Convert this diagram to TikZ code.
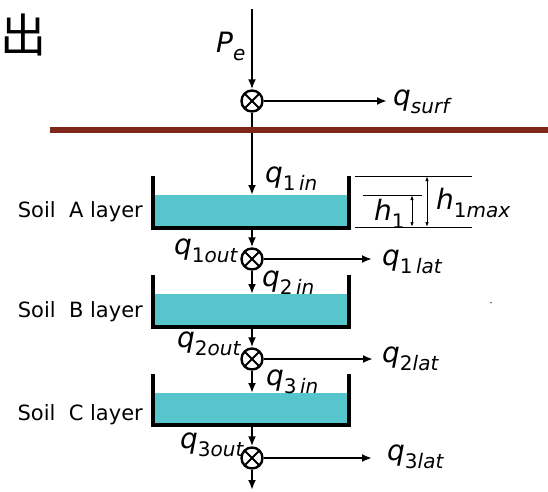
\documentclass[tikz,border=0pt]{standalone}
\usepackage{fontspec}
\setmainfont{DejaVu Sans}
\newfontfamily\cjk{Noto Sans CJK SC}
\usepackage{tikz}
\usetikzlibrary{arrows.meta}
\definecolor{water}{HTML}{56C5CC}
\definecolor{rust}{HTML}{7E2617}
\newcommand{\flux}[2]{\textit{#1}\raisebox{-8pt}{\fontsize{20}{20}\selectfont #2}}
\tikzset{
  junction/.style={circle,draw,line width=2.4pt,minimum size=21pt,inner sep=0pt,
    path picture={\draw[line width=2pt]
      (path picture bounding box.north west) -- (path picture bounding box.south east)
      (path picture bounding box.south west) -- (path picture bounding box.north east);}},
  arrow/.style={-{Latex[length=10pt,width=8pt]},line width=2pt},
  wall/.style={line width=4pt},
  gauge/.style={{Latex[length=5pt,width=3.5pt]}-{Latex[length=5pt,width=3.5pt]},line width=1pt},
  tag/.style={font=\fontsize{28}{28}\selectfont,inner sep=0pt,anchor=base west},
  layer/.style={font=\fontsize{21}{23}\selectfont,inner sep=0pt,anchor=base east}
}

\begin{document}
\begin{tikzpicture}[x=1pt,y=-1pt]
  \useasboundingbox (0,0) rectangle (548,491);
  \node[font=\cjk\fontsize{46}{46}\selectfont,inner sep=0pt] (glyph) at (24,35) {出};

  % surface
  \coordinate (rain) at (252,9);
  \node[junction] (j0) at (252,101) {};
  \draw[arrow] (rain) -- (j0);
  \node[tag] (pe) at (216,52) {\flux{P}{\textit{e}}};
  \coordinate (surf) at (387,101);
  \draw[arrow] (j0) -- (surf);
  \node[tag] (qsurf) at (393,105) {\flux{q}{\textit{surf}}};

  % soil layers
  \foreach \n/\top/\lev/\bot/\base in {A/176/195/228/217,B/275/294/327/317,C/374/393/425/420}{
    \fill[water] (153,\lev) rectangle (349,\bot);
    \draw[wall] (153,\top) -- (153,\bot) -- (349,\bot) -- (349,\top);
    \coordinate (in\n) at (252,\lev);
    \coordinate (out\n) at (252,\bot);
    \node[layer] (soil\n) at (143,\base) {Soil~~\n{} layer};
  }
  \draw[arrow] (j0) -- (inA);
  \draw[rust,line width=6pt] (50,130) -- (548,130);

  \node[junction] (j1) at (252,259) {};
  \node[junction] (j2) at (252,359) {};
  \node[junction] (j3) at (252,458) {};
  \coordinate (lat1) at (372,259);
  \coordinate (lat2) at (373,359);
  \coordinate (lat3) at (372,458);
  \coordinate (drain) at (252,490);

  \draw[arrow] (outA) -- (j1);
  \draw[arrow] (j1) -- (inB);
  \draw[arrow] (j1) -- (lat1);
  \draw[arrow] (outB) -- (j2);
  \draw[arrow] (j2) -- (inC);
  \draw[arrow] (j2) -- (lat2);
  \draw[arrow] (outC) -- (j3);
  \draw[arrow] (j3) -- (lat3);
  \draw[arrow] (j3) -- (drain);

  \node[tag] (q1in) at (265,182) {\flux{q}{1\,\textit{in}}};
  \node[tag] (q1out) at (174,254) {\flux{q}{1\textit{out}}};
  \node[tag] (q1lat) at (382,265) {\flux{q}{1\,\textit{lat}}};
  \node[tag] (q2in) at (262,286) {\flux{q}{2\,\textit{in}}};
  \node[tag] (q2out) at (177,347) {\flux{q}{2\textit{out}}};
  \node[tag] (q2lat) at (382,362) {\flux{q}{2\textit{lat}}};
  \node[tag] (q3in) at (266,385) {\flux{q}{3\,\textit{in}}};
  \node[tag] (q3out) at (180,448) {\flux{q}{3\textit{out}}};
  \node[tag] (q3lat) at (387,460) {\flux{q}{3\textit{lat}}};

  % level marks
  \draw[line width=1pt] (355,176) -- (472,176);
  \draw[line width=1pt] (363,195) -- (422,195);
  \draw[line width=1pt] (355,227) -- (472,227);
  \draw[gauge] (412,195) -- (412,227);
  \draw[gauge] (427,176) -- (427,227);
  \node[tag] (h1) at (374,220) {\flux{h}{1}};
  \node[tag] (h1max) at (436,209) {\flux{h}{1\textit{max}}};

  \node[font=\fontsize{8}{8}\selectfont,inner sep=0pt] (dash) at (491,304) {-};
\end{tikzpicture}
\end{document}
